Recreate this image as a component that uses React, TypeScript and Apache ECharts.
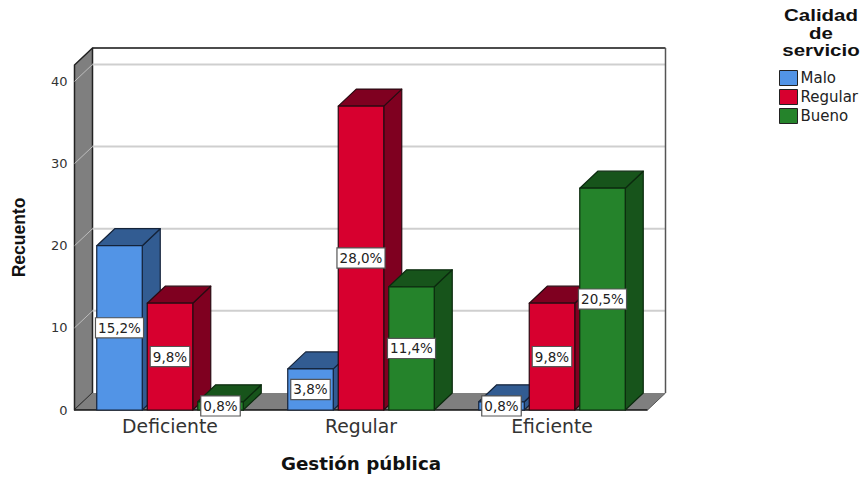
import React, { useEffect, useRef } from "react";
import * as echarts from "echarts";

const categories = ["Deficiente", "Regular", "Eficiente"];
const malo = [20, 5, 1];
const regular = [13, 37, 13];
const bueno = [1, 15, 27];
const maloPct = ["15,2%", "3,8%", "0,8%"];
const regularPct = ["9,8%", "28,0%", "9,8%"];
const buenoPct = ["0,8%", "11,4%", "20,5%"];
const gridTicks = [10, 20, 30, 40];

// Oblique projection of the chart box and the bars
const DEPTH_X = 18;
const DEPTH_Y = -17;
const BAR_WIDTH = 45.5;
const BAR_STEP = 50.5;
const WIDE_FONT = "DejaVu Sans";

const barShades = [
  { front: "#5294e6", shade: "#325c92", edge: "#14233a" },
  { front: "#d7002f", shade: "#7f0020", edge: "#2a0a12" },
  { front: "#25832b", shade: "#17541b", edge: "#0b2a0e" },
];

function poly(points: number[][], fill: string, stroke: string, lineWidth = 1.2) {
  return { type: "polygon", shape: { points }, style: { fill, stroke, lineWidth, lineJoin: "round" } };
}

function barSeries(name: string, values: number[], slot: number) {
  const { front, shade, edge } = barShades[slot];
  return {
    name,
    type: "custom",
    z: 3,
    itemStyle: { color: front },
    data: values.map((v, i) => [i, v]),
    renderItem: (_: any, api: any) => {
      const [cx, top] = api.coord([api.value(0), api.value(1)]);
      const [, base] = api.coord([api.value(0), 0]);
      const l = cx + (slot - 1) * BAR_STEP - BAR_WIDTH / 2;
      const r = l + BAR_WIDTH;
      return {
        type: "group",
        children: [
          poly([[r, top], [r + DEPTH_X, top + DEPTH_Y], [r + DEPTH_X, base + DEPTH_Y], [r, base]], shade, edge),
          poly([[l, top], [l + DEPTH_X, top + DEPTH_Y], [r + DEPTH_X, top + DEPTH_Y], [r, top]], shade, edge),
          poly([[l, top], [r, top], [r, base], [l, base]], front, edge),
        ],
      };
    },
  };
}

function labelSeries(values: number[], texts: string[], slot: number) {
  return {
    type: "custom",
    z: 8,
    data: values.map((v, i) => [i, v]),
    renderItem: (params: any, api: any) => {
      const [cx, mid] = api.coord([api.value(0), api.value(1) / 2]);
      return {
        type: "text",
        x: cx + (slot - 1) * BAR_STEP,
        y: mid,
        style: {
          text: texts[params.dataIndex],
          align: "center",
          verticalAlign: "middle",
          font: `13.5px "${WIDE_FONT}"`,
          fill: "#222",
          backgroundColor: "#fff",
          borderColor: "#555",
          borderWidth: 1.2,
          padding: [3, 2, 2, 2],
        },
      };
    },
  };
}

const backdropSeries = {
  type: "custom",
  z: 1,
  silent: true,
  data: [[0, 0]],
  renderItem: (params: any, api: any) => {
    const { x, y, width, height } = params.coordSys;
    const b = y + height;
    const r = x + width;
    const gridY = gridTicks.map((t) => api.coord([0, t])[1]);
    const edge = "#222";
    const lines = gridY.flatMap((gy) => [
      { type: "line", shape: { x1: x, y1: gy, x2: x + DEPTH_X, y2: gy + DEPTH_Y }, style: { stroke: "#bdbdbd", lineWidth: 1 } },
      { type: "line", shape: { x1: x + DEPTH_X, y1: gy + DEPTH_Y, x2: r + DEPTH_X, y2: gy + DEPTH_Y }, style: { stroke: "#cfcfcf", lineWidth: 2 } },
    ]);
    return {
      type: "group",
      children: [
        // back wall
        poly([[x + DEPTH_X, y + DEPTH_Y], [r + DEPTH_X, y + DEPTH_Y], [r + DEPTH_X, b + DEPTH_Y], [x + DEPTH_X, b + DEPTH_Y]], "#fff", "none"),
        // side wall
        poly([[x, y], [x + DEPTH_X, y + DEPTH_Y], [x + DEPTH_X, b + DEPTH_Y], [x, b]], "#7f7f7f", edge, 1.5),
        // floor
        poly([[x, b], [x + DEPTH_X, b + DEPTH_Y], [r + DEPTH_X, b + DEPTH_Y], [r, b]], "#7f7f7f", "none"),
        ...lines,
        { type: "line", shape: { x1: x + DEPTH_X, y1: y + DEPTH_Y, x2: r + DEPTH_X, y2: y + DEPTH_Y }, style: { stroke: "#111", lineWidth: 1.5 } },
        { type: "line", shape: { x1: r + DEPTH_X, y1: y + DEPTH_Y, x2: r + DEPTH_X, y2: b + DEPTH_Y }, style: { stroke: "#555", lineWidth: 1.5 } },
        { type: "line", shape: { x1: r + DEPTH_X, y1: b + DEPTH_Y, x2: r, y2: b }, style: { stroke: "#555", lineWidth: 1 } },
        { type: "line", shape: { x1: x, y1: b, x2: r, y2: b }, style: { stroke: "#111", lineWidth: 1.5 } },
      ],
    };
  },
};

export default function App() {
  const ref = useRef<HTMLDivElement>(null);
  useEffect(() => {
    const chart = echarts.init(ref.current!, null, { renderer: "svg" });
    chart.setOption({
      animation: false,
      backgroundColor: "#fff",
      grid: { left: 74.5, right: 216.5, top: 65, bottom: 68 },
      graphic: [
        {
          type: "text",
          x: 821,
          y: 7,
          scaleX: 1.28,
          style: {
            text: "Calidad\nde\nservicio",
            align: "center",
            font: 'bold 16px "Liberation Sans"',
            lineHeight: 17.5,
            fill: "#111",
          },
        },
      ],
      legend: {
        orient: "vertical",
        left: 779,
        top: 70,
        data: ["Malo", "Regular", "Bueno"],
        icon: "rect",
        itemWidth: 18,
        itemHeight: 15,
        itemGap: 3,
        padding: 0,
        selectedMode: false,
        itemStyle: { borderColor: "#222", borderWidth: 1 },
        textStyle: { fontFamily: WIDE_FONT, fontSize: 15, color: "#222", padding: [0, 0, 0, -2] },
      },
      xAxis: {
        type: "category",
        data: categories,
        z: 5,
        name: "Gestión pública",
        nameLocation: "middle",
        nameGap: 44,
        nameTextStyle: { fontFamily: WIDE_FONT, fontWeight: "bold", fontSize: 18.3, color: "#111" },
        axisLine: { show: false },
        axisTick: { show: false },
        axisLabel: { fontFamily: WIDE_FONT, fontSize: 18.8, color: "#333", margin: 7 },
      },
      yAxis: {
        type: "value",
        min: 0,
        max: 42,
        interval: 10,
        name: "Recuento",
        nameLocation: "middle",
        nameGap: 47,
        nameTextStyle: { fontFamily: "Liberation Sans", fontWeight: "bold", fontSize: 17.5, color: "#111" },
        axisLine: { show: false },
        axisTick: { show: false },
        splitLine: { show: false },
        axisLabel: { fontFamily: WIDE_FONT, fontSize: 13, color: "#333", margin: 7, showMaxLabel: false },
      },
      series: [
        backdropSeries,
        barSeries("Malo", malo, 0),
        barSeries("Regular", regular, 1),
        barSeries("Bueno", bueno, 2),
        labelSeries(malo, maloPct, 0),
        labelSeries(regular, regularPct, 1),
        labelSeries(bueno, buenoPct, 2),
      ],
    });
    return () => chart.dispose();
  }, []);
  return <div ref={ref} style={{ position: "absolute", left: 0, top: 0, width: 864, height: 478 }} />;
}
